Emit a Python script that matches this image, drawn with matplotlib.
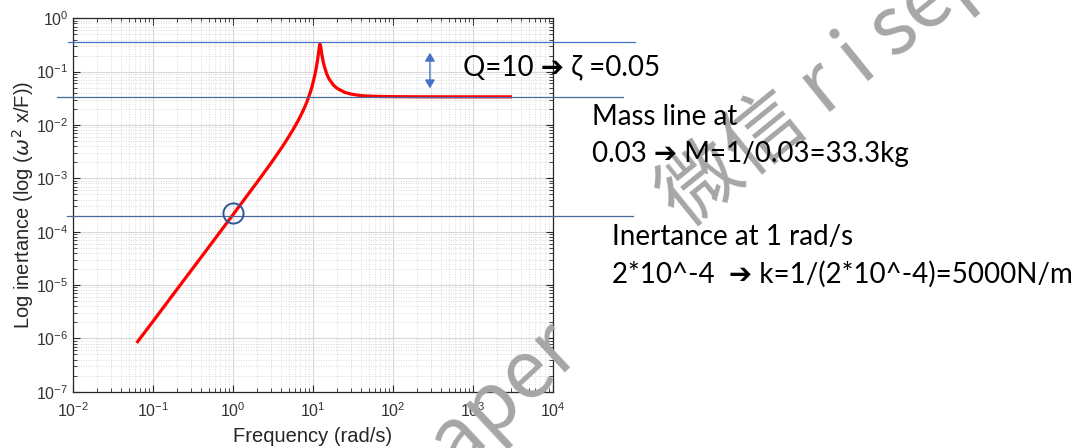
import matplotlib
matplotlib.use("Agg")
import matplotlib.pyplot as plt
from matplotlib.ticker import LogLocator, NullFormatter

# ---------------- data ----------------
freq = [0.063, 0.1, 0.2, 0.5, 1, 2, 3, 4, 4.5, 5, 5.5, 6, 6.5, 7, 7.5, 8,
        8.5, 9, 9.5, 10, 10.5, 11, 11.5, 11.8, 12.1, 12.3, 12.6, 13, 13.5,
        14, 15, 16, 18, 20, 25, 30, 40, 50, 70, 100, 200, 500, 1000, 3100]
inertance = [8.2e-7, 2.05e-6, 8.2e-6, 5.1e-5, 2.05e-4, 8.3e-4, 1.91e-3,
             3.57e-3, 4.65e-3, 6.0e-3, 7.55e-3, 9.45e-3, 1.17e-2, 1.45e-2,
             1.79e-2, 2.22e-2, 2.76e-2, 3.5e-2, 4.45e-2, 5.85e-2, 8.0e-2,
             0.11, 0.165, 0.22, 0.29, 0.33, 0.29, 0.21, 0.155, 0.125, 0.09,
             0.073, 0.057, 0.049, 0.041, 0.038, 0.0355, 0.0348, 0.0342,
             0.034, 0.0338, 0.0337, 0.0337, 0.0337]

peak_level = 0.355
mass_level = 0.033
stiff_level = 2.0e-4
circle_point = (1.0, 2.2e-4)
arrow_x = 292
arrow_y = (0.226, 0.0486)

xlim = (1e-2, 1e4)
ylim = (1e-7, 1e0)

ann_texts = ["Q=10 \u2794 \u03b6 =0.05",
             "Mass line at",
             "0.03 \u2794 M=1/0.03=33.3kg",
             "Inertance at 1 rad/s",
             "2*10^-4  \u2794 k=1/(2*10^-4)=5000N/m"]
watermark = "\u5fae\u4fe1 r i sepaper"

# ---------------- figure ----------------
W, H = 1080, 448
plt.rcParams['font.family'] = ['Liberation Sans', 'DejaVu Sans']
fig = plt.figure(figsize=(W / 100, H / 100), dpi=100)
fig.patch.set_facecolor('white')

def fx(px):
    return px / W

def fy(py):
    return 1 - py / H

ax = fig.add_axes([fx(72.7), fy(391.7), fx(552.7) - fx(72.7), fy(18.3) - fy(391.7)])
ax.set_xscale('log')
ax.set_yscale('log')
ax.set_xlim(*xlim)
ax.set_ylim(*ylim)

ax.plot(freq, inertance, color='#ff0000', lw=2.3, zorder=4,
        solid_capstyle='butt', solid_joinstyle='round')

# grid
ax.xaxis.set_major_locator(LogLocator(base=10, numticks=20))
ax.yaxis.set_major_locator(LogLocator(base=10, numticks=20))
ax.xaxis.set_minor_locator(LogLocator(base=10, subs=range(2, 10), numticks=20))
ax.yaxis.set_minor_locator(LogLocator(base=10, subs=range(2, 10), numticks=20))
ax.xaxis.set_minor_formatter(NullFormatter())
ax.yaxis.set_minor_formatter(NullFormatter())
ax.grid(True, which='major', color='#d8d8d8', lw=0.8, ls='-')
ax.grid(True, which='minor', color='#cccccc', lw=0.6, ls=(0, (1, 2)))
ax.set_axisbelow(True)

for s in ax.spines.values():
    s.set_color('#262626')
    s.set_linewidth(0.9)
ax.tick_params(which='both', direction='in', top=True, right=True,
               colors='#262626', labelcolor='#333333', labelsize=11.5)
ax.tick_params(which='major', length=5, width=0.8)
ax.tick_params(which='minor', length=3, width=0.6)
ax.tick_params(axis='x', pad=7)
ax.tick_params(axis='y', pad=3)

ax.set_xlabel('Frequency (rad/s)', fontsize=14.5, color='#262626', labelpad=5)
ax.set_ylabel('Log inertance (log ($\\omega^2$ x/F))', fontsize=14.5,
              color='#262626', labelpad=0)

# annotation lines (extend past the axes)
ax.plot([0.00866, 1.07e5], [peak_level, peak_level], color='#4472C4', lw=0.9,
        clip_on=False, zorder=5)
ax.plot([0.0063, 7.5e4], [mass_level, mass_level], color='#4a6a9c', lw=0.9,
        clip_on=False, zorder=5)
ax.plot([0.0084, 1.0e5], [stiff_level, stiff_level], color='#4a6a9c', lw=0.9,
        clip_on=False, zorder=5)

# circle
ax.plot([circle_point[0]], [circle_point[1]], marker='o', ms=14.5,
        mfc='none', mec='#2F5597', mew=1.4, zorder=6)

# double arrow
ax.annotate('', xy=(arrow_x, arrow_y[1]), xytext=(arrow_x, arrow_y[0]),
            arrowprops=dict(arrowstyle='<|-|>,head_length=0.5,head_width=0.3',
                            color='#4472C4', lw=1.0, shrinkA=0, shrinkB=0),
            zorder=6)

# watermark
wm_font = ['Noto Sans CJK SC', 'DejaVu Sans']
fig.text(fx(670), fy(210), watermark, rotation=39, rotation_mode='anchor',
         ha='left', va='center', fontsize=58, color='#a6a6a6',
         family=wm_font, fontweight='medium', zorder=2)
fig.text(fx(566), fy(338), watermark, rotation=43, rotation_mode='anchor',
         ha='right', va='center', fontsize=58, color='#a6a6a6',
         family=wm_font, fontweight='medium', zorder=2)

# annotation texts
txt_font = ['Lato', 'DejaVu Sans']
pos = [(463, 75), (592, 125), (592, 162), (612, 245), (612, 283)]
for t, (px, py) in zip(ann_texts, pos):
    fig.text(fx(px), fy(py), t, ha='left', va='baseline', fontsize=20,
             color='black', family=txt_font, zorder=3)

fig.savefig('out.png', dpi=100, facecolor='white')
